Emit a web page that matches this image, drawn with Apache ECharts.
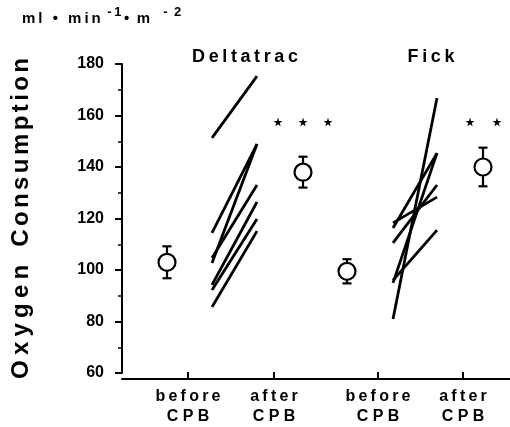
<!DOCTYPE html>
<html>
<head>
<meta charset="utf-8">
<style>
  html, body { margin: 0; padding: 0; background: #fff; }
  #chart { width: 510px; height: 427px; }
</style>
<script src="https://cdn.jsdelivr.net/npm/echarts@6/dist/echarts.min.js"></script>
</head>
<body>
<div id="chart"></div>
<script>
// x positions are in axis units (0..388 along the x axis)
const tickPos = [66, 152, 256, 341]
const tickLabels = ['before\nCPB', 'after\nCPB', 'before\nCPB', 'after\nCPB']

// group means with SD bars
const meanPos = [45, 181, 225, 361]
const meanVal = [103, 138, 99.5, 140]
const sdVal = [6.2, 6, 4.7, 7.5]

// individual patients, before -> after
const deltaPos = [90, 135]
const deltaBefore = [151.3, 114.4, 104.7, 102.7, 94.2, 92.2, 85.6]
const deltaAfter = [175.3, 148.9, 133, 148.9, 126.4, 119.8, 115.1]
const fickPos = [271, 315]
const fickBefore = [116.3, 118.3, 110.5, 96, 95, 81]
const fickAfter = [145.4, 128.3, 133, 115.5, 145.4, 166.8]

// significance stars
const starPos = [156, 181, 206, 348, 375]
const starVal = [157.5, 157.5, 157.5, 157.5, 157.5]

const font = "'Liberation Sans', Arial, Helvetica, sans-serif"
const spaced = s => s.split('').join('\u2009')
const gapped = (s, tok) => s.split('').join('{' + tok + '|\u2009}')
const black = '#000'

const chart = echarts.init(document.getElementById('chart'))

let series = []
deltaBefore.forEach((v, i) => {
  series.push({
    type: 'line',
    data: [[deltaPos[0], v], [deltaPos[1], deltaAfter[i]]],
    symbol: 'none',
    lineStyle: { color: black, width: 2.8 },
    silent: true
  })
})
fickBefore.forEach((v, i) => {
  series.push({
    type: 'line',
    data: [[fickPos[0], v], [fickPos[1], fickAfter[i]]],
    symbol: 'none',
    lineStyle: { color: black, width: 2.8 },
    silent: true
  })
})
series.push({
  type: 'custom',
  data: meanPos.map((x, i) => [x, meanVal[i] - sdVal[i], meanVal[i] + sdVal[i]]),
  renderItem (params, api) {
    const lo = api.coord([api.value(0), api.value(1)])
    const hi = api.coord([api.value(0), api.value(2)])
    const w = 4.5
    const st = { stroke: black, lineWidth: 2.2 }
    return {
      type: 'group',
      children: [
        { type: 'line', shape: { x1: lo[0], y1: lo[1], x2: hi[0], y2: hi[1] }, style: st },
        { type: 'line', shape: { x1: lo[0] - w, y1: lo[1], x2: lo[0] + w, y2: lo[1] }, style: st },
        { type: 'line', shape: { x1: hi[0] - w, y1: hi[1], x2: hi[0] + w, y2: hi[1] }, style: st }
      ]
    }
  },
  z: 3
})
series.push({
  type: 'scatter',
  data: meanPos.map((x, i) => [x, meanVal[i]]),
  symbol: 'circle',
  symbolSize: 17,
  itemStyle: { color: '#fff', borderColor: black, borderWidth: 2.2, opacity: 1 },
  z: 4
})
series.push({
  type: 'scatter',
  data: starPos.map((x, i) => [x, starVal[i]]),
  symbol: 'path://M50,0 L61,35 L98,35 L68,57 L79,91 L50,70 L21,91 L32,57 L2,35 L39,35 Z',
  symbolSize: 9,
  itemStyle: { color: black, opacity: 1 },
  z: 4
})

chart.setOption({
  animation: false,
  grid: { left: 122, right: 0, top: 64, bottom: 54 },
  xAxis: {
    type: 'value',
    min: 0,
    max: 388,
    offset: 6,
    axisLine: { show: true, onZero: false, lineStyle: { color: black, width: 2 } },
    axisTick: { show: true, inside: true, length: 7, customValues: tickPos, lineStyle: { color: black, width: 2 } },
    axisLabel: {
      customValues: tickPos,
      formatter: v => {
        const t = tickLabels[tickPos.indexOf(v)] || ''
        const parts = t.split('\n')
        return spaced(parts[0]) + '\n' + parts[1].split('').join(' ')
      },
      fontSize: 16,
      fontWeight: 'bold',
      fontFamily: font,
      lineHeight: 20,
      margin: 8,
      color: black
    },
    splitLine: { show: false }
  },
  yAxis: {
    type: 'value',
    min: 60,
    max: 180,
    interval: 20,
    name: gapped('Oxygen', 'h') + '  \u2009' + gapped('Consumption', 'g'),
    nameLocation: 'middle',
    nameRotate: 90,
    nameGap: 88,
    nameTextStyle: {
      fontSize: 24,
      fontWeight: 'bold',
      fontFamily: font,
      color: black,
      rich: {
        g: { fontSize: 17, fontWeight: 'bold', fontFamily: font, color: black },
        h: { fontSize: 26, fontWeight: 'bold', fontFamily: font, color: black }
      }
    },
    axisLine: { show: true, lineStyle: { color: black, width: 2 } },
    axisTick: { show: true, length: 7, lineStyle: { color: black, width: 2 } },
    minorTick: { show: true, splitNumber: 2, length: 4, lineStyle: { color: black, width: 1.5 } },
    axisLabel: { fontSize: 16, fontWeight: 'bold', fontFamily: font, color: black, margin: 18 },
    splitLine: { show: false }
  },
  graphic: [
    {
      type: 'text',
      left: 22,
      top: 6,
      style: {
        text: '{m|' + spaced('ml • min') + '}{s|\u2002-\u20091\u2009}{m|•\u2002m}{s|\u2002\u2002-\u20022}',
        rich: {
          m: { fontSize: 15, fontWeight: 'bold', fontFamily: font, fill: black, lineHeight: 20, verticalAlign: 'bottom' },
          s: { fontSize: 13, fontWeight: 'bold', fontFamily: font, fill: black, lineHeight: 20, verticalAlign: 'top' }
        }
      }
    },
    {
      type: 'text',
      x: 245,
      y: 57,
      style: { text: spaced('Deltatrac'), align: 'center', verticalAlign: 'middle', fontSize: 18, fontWeight: 'bold', fontFamily: font, fill: black }
    },
    {
      type: 'text',
      x: 431,
      y: 57,
      style: { text: spaced('Fick'), align: 'center', verticalAlign: 'middle', fontSize: 18, fontWeight: 'bold', fontFamily: font, fill: black }
    }
  ],
  series: series
})
</script>
</body>
</html>
